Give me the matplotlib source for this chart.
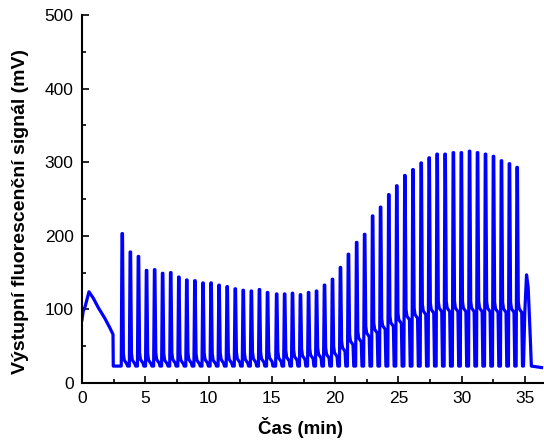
import numpy as np
import matplotlib
matplotlib.use("Agg")
import matplotlib.pyplot as plt
from matplotlib.ticker import MultipleLocator

# --- data ---
# start segment (time in min, signal in mV)
start_t = [0.0, 0.1, 0.25, 0.55, 0.9, 1.3, 1.8, 2.2, 2.45, 2.47, 2.8]
start_v = [86, 98, 104, 124, 115, 102, 88, 75, 66, 23, 23]

# peak times and heights (mV)
peak_t = [3.18, 3.82, 4.46, 5.10, 5.74, 6.37, 7.01, 7.65, 8.28, 8.92,
          9.56, 10.20, 10.83, 11.47, 12.11, 12.74, 13.38, 14.02, 14.66,
          15.38, 16.01, 16.63, 17.26, 17.90, 18.53, 19.16, 19.79, 20.42,
          21.05, 21.70, 22.33, 22.96, 23.59, 24.24, 24.87, 25.51, 26.15,
          26.80, 27.43, 28.06, 28.69, 29.34, 29.97, 30.62, 31.25, 31.88,
          32.51, 33.14, 33.77, 34.38]
peak_v = [203, 178, 172, 153, 154, 149, 150, 144, 140, 139,
          136, 136, 133, 131, 128, 126, 125, 127, 123,
          121, 121, 122, 120, 123, 125, 133, 141, 157,
          175, 191, 202, 227, 239, 256, 268, 282, 290,
          299, 306, 311, 311, 313, 313, 315, 313, 311,
          308, 302, 298, 293]
shoulder_v = [28, 28, 29, 28, 29, 28, 29, 28, 29, 28,
              29, 28, 29, 29, 30, 29, 30, 30, 31,
              31, 32, 33, 34, 35, 36, 36, 38, 45,
              54, 58, 65, 70, 75, 79, 83, 88, 90,
              95, 97, 99, 99, 99, 99, 99, 99, 99,
              98, 98, 98, 98]
baseline = 23

# last small peak and tail
end_t = [34.98, 35.12, 35.25, 35.42, 35.5, 36.3]
end_v = [95, 147, 130, 60, 23, 21]

# --- build the trace ---
t = list(start_t)
v = list(start_v)
for tp, hp, sh in zip(peak_t, peak_v, shoulder_v):
    t += [tp - 0.08, tp - 0.02, tp + 0.02, tp + 0.09, tp + 0.16, tp + 0.36, tp + 0.42, tp + 0.50]
    v += [baseline, hp, hp, sh + 12, sh + 3, sh - 2, baseline, baseline]
t += end_t
v += end_v

plt.rcParams['font.family'] = ['Liberation Sans', 'DejaVu Sans']
plt.rcParams['xtick.direction'] = 'in'
plt.rcParams['ytick.direction'] = 'in'

fig = plt.figure(figsize=(5.44, 4.42), dpi=100)
ax = fig.add_axes([82 / 544, 59 / 442, 1 - 82 / 544, 368 / 442])

ax.plot(t, v, color='#0000ff', linewidth=2.3, solid_joinstyle='round')

ax.set_xlim(0, 36.5)
ax.set_ylim(0, 500)
ax.xaxis.set_major_locator(MultipleLocator(5))
ax.xaxis.set_minor_locator(MultipleLocator(2.5))
ax.yaxis.set_major_locator(MultipleLocator(100))
ax.yaxis.set_minor_locator(MultipleLocator(50))
ax.tick_params(which='major', length=5, width=1.2, labelsize=12.5, pad=6)
ax.tick_params(which='minor', length=3, width=1.2)

for side in ['top', 'right']:
    ax.spines[side].set_visible(False)
for side in ['left', 'bottom']:
    ax.spines[side].set_linewidth(1.5)

ax.set_xlabel('Čas (min)', fontsize=13.5, fontweight='bold')
ax.set_ylabel('Výstupní fluorescenční signál (mV)', fontsize=14,
              fontweight='bold')
ax.xaxis.set_label_coords(0.474, -0.093)
ax.yaxis.set_label_coords(-0.115, 0.465)

plt.savefig('out.png', dpi=100, facecolor='white')
